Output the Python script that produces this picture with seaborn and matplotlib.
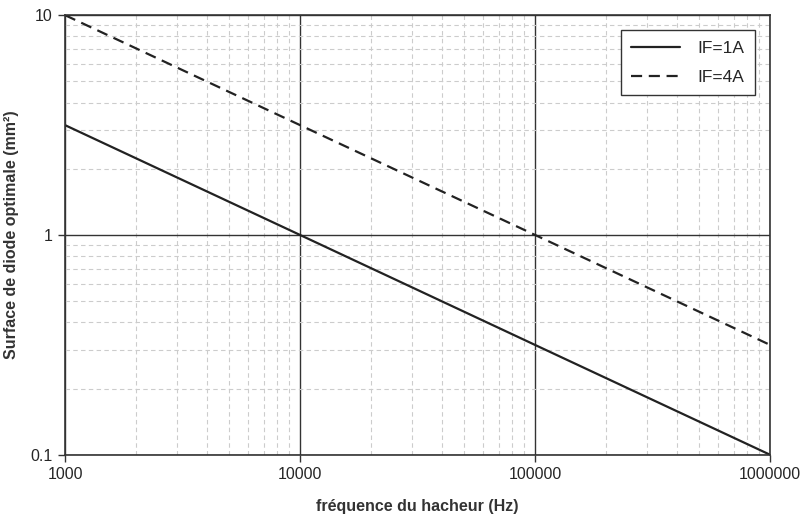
import numpy as np
import pandas as pd
import seaborn as sns
import matplotlib.pyplot as plt
from matplotlib.ticker import FixedLocator, FixedFormatter, LogLocator, NullFormatter

sns.set_theme(style="white")
plt.rcParams['font.family'] = ['Liberation Sans', 'DejaVu Sans']

# data
freq = [1000, 10000, 100000, 1000000]
surf_1a = [3.16, 1.0, 0.316, 0.1]
surf_4a = [10.0, 3.16, 1.0, 0.316]

df = pd.DataFrame({
    "freq": freq * 2,
    "surf": surf_1a + surf_4a,
    "serie": ["IF=1A"] * len(freq) + ["IF=4A"] * len(freq),
})

fig = plt.figure(figsize=(8.04, 5.24), dpi=100)
ax = fig.add_axes([0.081, 0.132, 0.877, 0.839])

sns.lineplot(
    data=df, x="freq", y="surf", style="serie",
    dashes={"IF=1A": "", "IF=4A": (5, 3)},
    color="#222222", linewidth=1.6, ax=ax,
)
ax.set_xscale("log")
ax.set_yscale("log")
ax.set_xlim(1000, 1e6)
ax.set_ylim(0.1, 10)

xt = [1000, 10000, 100000, 1000000]
yt = [0.1, 1, 10]
ax.xaxis.set_major_locator(FixedLocator(xt))
ax.xaxis.set_major_formatter(FixedFormatter([str(v) for v in xt]))
ax.yaxis.set_major_locator(FixedLocator(yt))
ax.yaxis.set_major_formatter(FixedFormatter(["0.1", "1", "10"]))
ax.xaxis.set_minor_locator(LogLocator(base=10, subs=np.arange(2, 10)))
ax.yaxis.set_minor_locator(LogLocator(base=10, subs=np.arange(2, 10)))
ax.xaxis.set_minor_formatter(NullFormatter())
ax.yaxis.set_minor_formatter(NullFormatter())

ax.grid(which="major", color="#333333", linewidth=1.0, linestyle="-")
ax.grid(which="minor", color="#cccccc", linewidth=0.8, linestyle=(0, (4, 3)))
ax.set_axisbelow(True)

ax.tick_params(which="major", direction="out", length=5, width=1, color="#333333",
               labelsize=11.5, left=True, bottom=True, pad=4)
ax.tick_params(which="minor", length=0)
for s in ax.spines.values():
    s.set_color("#333333")
    s.set_linewidth(1.2)

ax.set_xlabel("fréquence du hacheur (Hz)", fontsize=11.5, fontweight="bold",
              color="#333333", labelpad=12)
ax.set_ylabel("Surface de diode optimale (mm²)", fontsize=11.5, fontweight="bold",
              color="#333333", labelpad=8)

leg = ax.legend(loc="upper right", bbox_to_anchor=(0.99, 0.985), fontsize=12.5,
                frameon=True, fancybox=False, edgecolor="#333333",
                framealpha=1, handlelength=2.8, borderpad=0.6, labelspacing=0.8,
                handletextpad=1.0)
leg.get_frame().set_linewidth(1.0)

fig.savefig("out.png", dpi=100)
